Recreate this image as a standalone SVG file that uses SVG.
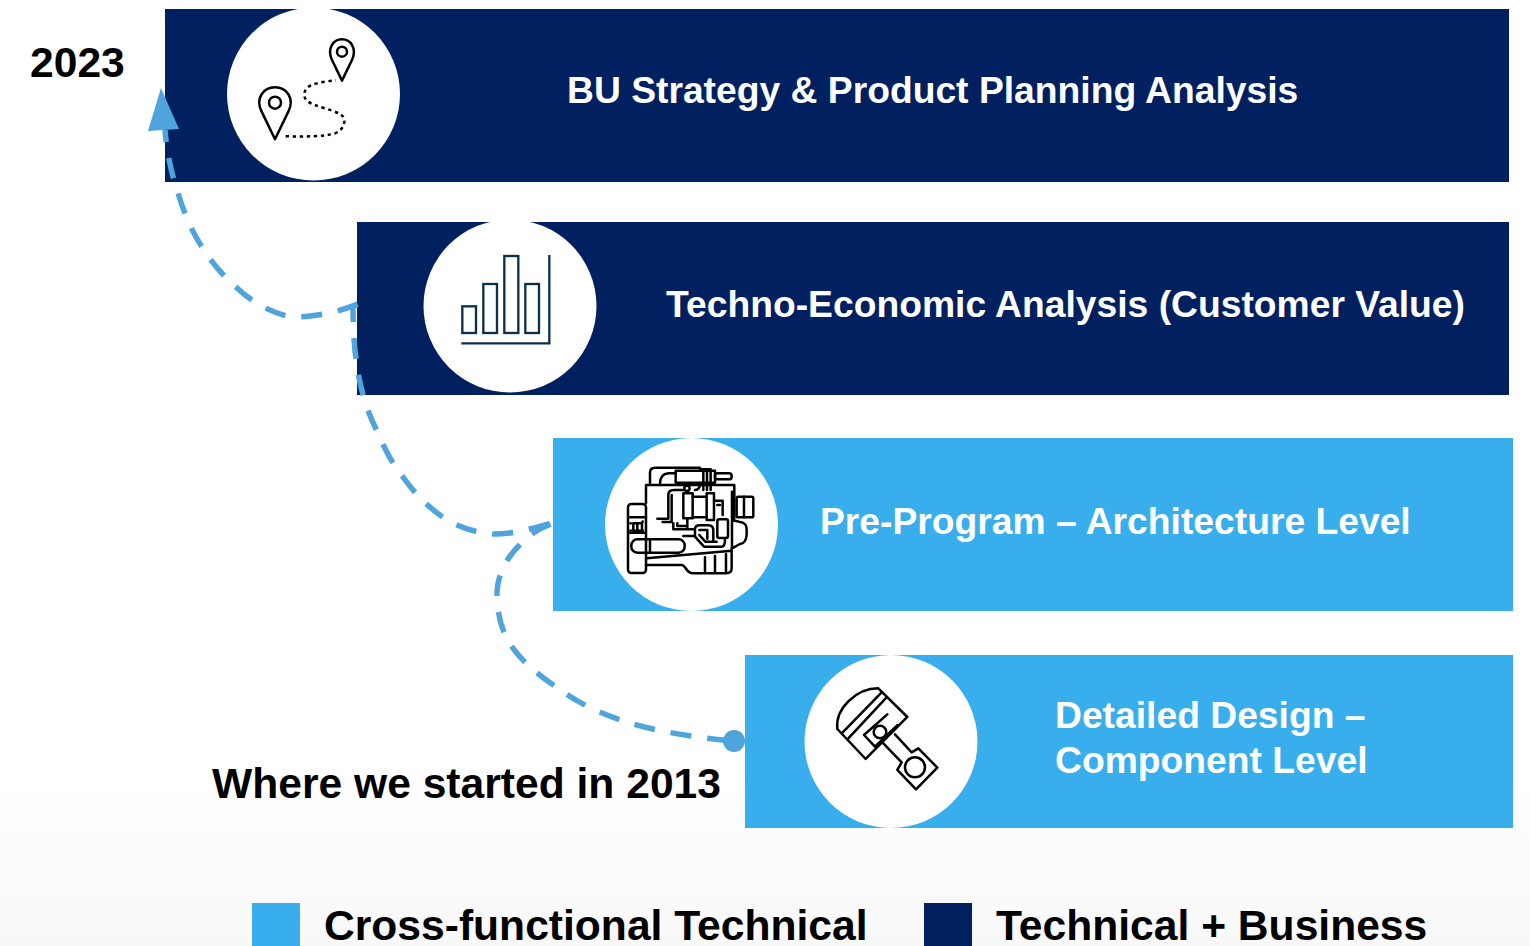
<svg xmlns="http://www.w3.org/2000/svg" width="1530" height="946" viewBox="0 0 1530 946">
<style>
.navy{fill:#002060}.sky{fill:#38AEEC}.disc{fill:#fff}
.label{font-family:"Liberation Sans",Arial,sans-serif;font-weight:700;font-size:37.25px;fill:#fff}
.dark{font-family:"Liberation Sans",Arial,sans-serif;font-weight:700;font-size:42.6px;fill:#000}
.ico{fill:none;stroke:#000;stroke-width:7.500;stroke-linejoin:round;stroke-linecap:round}
.ico2{fill:none;stroke:#0C2F4A;stroke-width:7}
.dash{fill:none;stroke:#4FA4DC;stroke-width:5.500;stroke-dasharray:21 16}
</style>
<defs>
<linearGradient id="bg" x1="0" y1="0" x2="0" y2="1"><stop offset="0" stop-color="#fff"/><stop offset="1" stop-color="#f8f8f8"/></linearGradient>
</defs>
<rect width="1530" height="946" fill="#fff"/>
<rect y="780" width="1530" height="166" fill="url(#bg)"/>

<g id="node-strategy">
<rect class="navy" x="165" y="9" width="1344" height="173"/>
<circle class="disc" cx="313.500" cy="94" r="86.500"/>
<g transform="translate(225 10) scale(.3333)">
<path class="ico" d="M351,212 L321,150 C305,115 325,88 351,88 C377,88 397,115 381,150 Z"/>
<circle class="ico" cx="351" cy="125" r="15"/>
<path class="ico" d="M150,388 L110,305 C90,265 115,232 150,232 C185,232 210,265 190,305 Z"/>
<circle class="ico" cx="150" cy="278" r="18"/>
<path class="ico" stroke-dasharray="10 11" style="stroke-linecap:butt" d="M182,379 C240,380 300,380 330,370 C360,358 368,325 345,312 C320,298 270,290 250,275 C230,262 235,235 260,225 C280,217 310,213 332,211"/>
</g>
</g>

<g id="node-techno">
<rect class="navy" x="357" y="222" width="1152" height="173"/>
<circle class="disc" cx="510" cy="306" r="86.500"/>
<g transform="translate(420 220) scale(.3333)">
<rect class="ico2" x="127" y="259" width="41" height="80"/>
<rect class="ico2" x="190" y="192" width="41" height="147"/>
<rect class="ico2" x="253" y="108" width="42" height="231"/>
<rect class="ico2" x="316" y="192" width="41" height="147"/>
<path class="ico2" d="M124,370 H388 V105"/>
</g>
</g>

<g id="node-preprogram">
<rect class="sky" x="553" y="438" width="960" height="173"/>
<circle class="disc" cx="691.500" cy="524.500" r="86.500"/>
<g transform="translate(600 440) scale(.3333)">
<rect class="ico" x="84" y="192" width="54" height="207" rx="10"/>
<rect class="ico" x="94" y="298" width="160" height="40" rx="18"/>
<path class="ico" d="M150,298 V338 M140,355 L395,332 M138,375 H245 C258,375 258,400 278,400 H378 Q395,400 395,385 V325"/>
<path class="ico" d="M138,190 V135 H403 V235 H396 V325 M403,155 H396 V235 M396,240 L428,248 Q440,252 440,270 V285 Q438,310 420,312 L396,325"/>
<path class="ico" d="M150,130 V98 Q150,83 165,83 H300"/>
<path class="ico" d="M180,132 Q180,102 205,100 H228"/>
<rect class="ico" x="227" y="92" width="118" height="36"/>
<rect class="ico" x="345" y="100" width="50" height="18" rx="8"/>
<path class="ico" d="M300,88 H332 V150 M310,96 V150 M321,96 V150 M285,150 Q300,150 300,130"/>
<rect class="ico" x="410" y="170" width="50" height="62" rx="5"/>
<path class="ico" d="M432,170 V232"/>
<path class="ico" d="M172,236 H205 V165 Q205,150 222,150 H250 M188,246 H215 V165"/>
<rect class="ico" x="250" y="160" width="28" height="75"/>
<circle class="ico" cx="261" cy="145" r="8"/>
<path class="ico" d="M278,170 H320 V160 H342 V240 H320 V232 H278 M320,170 V232"/>
<path class="ico" d="M342,182 H368 V225 M352,195 H360"/>
<path class="ico" d="M220,250 V268 H280 M232,250 V258 H262 M262,235 V268"/>
<rect class="ico" x="352" y="238" width="32" height="56" rx="6"/>
<path class="ico" d="M250,288 H285 V268 Q285,256 300,256 H325 Q340,256 340,272 V300 M298,270 H322 V296 M285,290 L312,320 H365 Q375,320 375,300 M298,285 L316,305 H350"/>
<path class="ico" d="M90,232 H132 M90,278 H132 M100,250 H126 V272 H100 Z M112,250 V272"/>
<circle cx="92" cy="250" r="4" fill="#000"/><circle cx="128" cy="245" r="4" fill="#000"/><circle cx="92" cy="272" r="4" fill="#000"/><circle cx="128" cy="272" r="4" fill="#000"/>
<path class="ico" d="M315,352 V395 M345,348 V395 M378,342 V395"/>
</g>
</g>

<g id="node-detailed">
<rect class="sky" x="745" y="655" width="768" height="173"/>
<circle class="disc" cx="891" cy="741.500" r="86.500"/>
<g transform="translate(800 655) scale(.3333)">
<path class="ico" d="M112,222 C105,160 170,100 235,100 L322,186 L197,312 Z"/>
<path class="ico" d="M245,112 L128,232 M257,130 L145,250"/>
<path class="ico" d="M262,178 L192,240 L225,275 L293,210"/>
<circle class="ico" cx="240" cy="231" r="19"/>
<path class="ico" d="M285,238 L335,292 L355,280 L412,338 L348,403 L292,345 L305,322 L250,265"/>
<circle class="ico" cx="345" cy="337" r="30"/>
</g>
</g>

<g id="connectors">
<path class="dash" stroke-dashoffset="9" d="M165,130 C167,155 172,175 178,193 C184,213 192,232 202,247 C212,263 224,277 237,288 C252,302 268,311 287,316 C300,318 312,316 324,314 C336,312 348,308 358,304"/>
<path class="dash" stroke-dashoffset="6" d="M353,307 C353,325 354,345 356,359 C359,385 367,412 377,431 C385,450 393,465 403,477 C415,494 428,507 444,518 C458,527 475,533 494,534 C515,534 535,528 554,522"/>
<path class="dash" stroke-dashoffset="31" d="M734,741 C700,738 665,733 633,724 C610,717 585,707 565,693 C545,680 522,663 510,644 C500,628 497,610 497,592 C498,570 510,553 525,540 C532,533 543,526 554,523"/>
<polygon points="161,88 148,131 179,129" fill="#4FA4DC"/>
<circle cx="734" cy="741" r="11" fill="#4FA4DC"/>
</g>

<g id="texts">
<text class="dark" x="30" y="77">2023</text>
<text class="label" x="567" y="103">BU Strategy &amp; Product Planning Analysis</text>
<text class="label" x="666" y="317">Techno-Economic Analysis (Customer Value)</text>
<text class="label" x="820" y="534">Pre-Program – Architecture Level</text>
<text class="label" x="1055" y="728">Detailed Design –</text>
<text class="label" x="1055" y="773">Component Level</text>
<text class="dark" x="212" y="798">Where we started in 2013</text>
</g>

<g id="legend-cross">
<rect class="sky" x="252" y="903" width="48" height="43"/>
<text class="dark" x="324" y="940">Cross-functional Technical</text>
</g>
<g id="legend-business">
<rect class="navy" x="924" y="903" width="48" height="43"/>
<text class="dark" x="996" y="940">Technical + Business</text>
</g>
</svg>
